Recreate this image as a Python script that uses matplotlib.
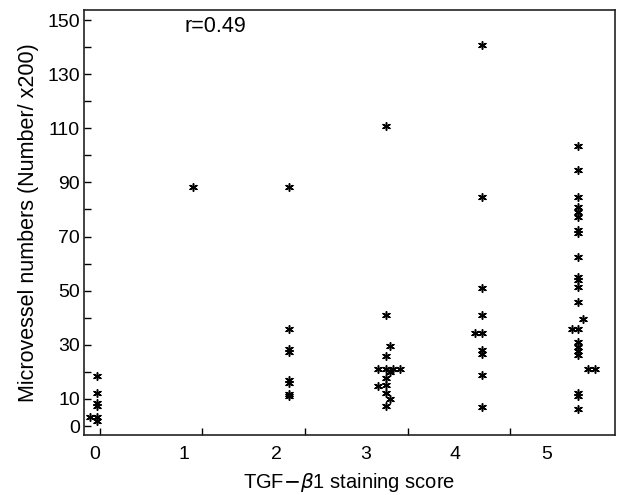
import matplotlib
matplotlib.use("Agg")
import matplotlib.pyplot as plt

plt.rcParams['font.family'] = ['Liberation Sans', 'DejaVu Sans']

# staining score, small horizontal offset (as drawn), microvessel count
score = [0, 0, 0, 0, 0, 0, 0,
         1,
         2, 2, 2, 2, 2, 2, 2, 2,
         3, 3, 3, 3, 3, 3, 3, 3, 3, 3, 3, 3, 3, 3, 3,
         4, 4, 4, 4, 4, 4, 4, 4, 4, 4,
         5, 5, 5, 5, 5, 5, 5, 5, 5, 5, 5, 5, 5, 5, 5, 5, 5, 5, 5, 5, 5,
         5, 5, 5, 5]
offset = [0, 0, 0, 0, 0, 0, -0.07,
          0,
          0, 0, 0, 0, 0, 0, 0, 0,
          0, 0, 0, 0, 0, 0, 0, 0, 0.04, 0.04, 0.04, -0.08, -0.08, 0.08, 0.15,
          0, 0, 0, 0, 0, 0, 0, 0, 0, -0.07,
          0, 0, 0, 0, 0, 0, 0, 0, 0, 0, 0, 0, 0, 0, 0, 0, 0, 0, 0, 0, 0,
          0.045, -0.07, 0.1, 0.175]
vessels = [18.5, 12.3, 8.5, 7.3, 3.3, 2.0, 3.3,
           88.4,
           88.4, 35.8, 28.3, 27.3, 17.0, 16.0, 12.0, 11.0,
           110.8, 41.0, 26.0, 20.9, 17.6, 15.1, 12.1, 7.4, 29.7, 20.0, 9.8, 20.9, 14.8, 20.9, 20.9,
           140.7, 84.5, 51.1, 41.0, 34.5, 28.0, 26.7, 18.8, 7.1, 34.5,
           103.4, 94.6, 84.5, 80.8, 79.2, 77.3, 72.4, 71.2, 62.3, 55.2, 53.9, 51.5, 45.9,
           35.7, 31.1, 29.3, 27.8, 26.2, 12.3, 11.1, 6.2,
           39.5, 35.7, 20.9, 20.9]

xtick_pos = [0.034, 1.097, 2.163, 3.229, 4.292]
xlabel_pos = [-0.018, 0.906, 1.861, 2.796, 3.72, 4.673]
xlabels = ['0', '1', '2', '3', '4', '5']
yticks = list(range(0, 151, 10))
ylabels = ['0', '10', '', '30', '', '50', '', '70', '', '90', '', '110', '', '130', '', '150']

fig = plt.figure(figsize=(6.18, 4.95), dpi=100)
ax = fig.add_axes([0.136, 0.1212, 0.859, 0.8586])

x = [s + o for s, o in zip(score, offset)]
ax.scatter(x, vessels, marker=(6, 2, 0), s=30, c='black', linewidths=1.1)

ax.set_xlim(-0.132, 5.38)
ax.set_ylim(-3.32, 153.7)

ax.set_xticks(xtick_pos)
ax.set_xticklabels([])
ax.set_xticks(xlabel_pos, minor=True)
ax.set_xticklabels(xlabels, minor=True, fontsize=14)
ax.tick_params(axis='x', which='major', direction='in', length=5, width=1)
ax.tick_params(axis='x', which='minor', length=0, pad=8)

ax.set_yticks(yticks)
ax.set_yticklabels(ylabels, fontsize=14)
ax.tick_params(axis='y', direction='in', length=5, width=1, pad=3)

for sp in ax.spines.values():
    sp.set_linewidth(1.2)
    sp.set_color('#222222')

ax.set_xlabel('TGF$-\\beta$1 staining score', fontsize=14.5, labelpad=6)
ax.set_ylabel('Microvessel numbers (Number/ x200)', fontsize=15.5, labelpad=6)
ax.text(0.19, 0.985, 'r=0.49', transform=ax.transAxes, fontsize=15.5, va='top')

fig.savefig('out.png', dpi=100)
